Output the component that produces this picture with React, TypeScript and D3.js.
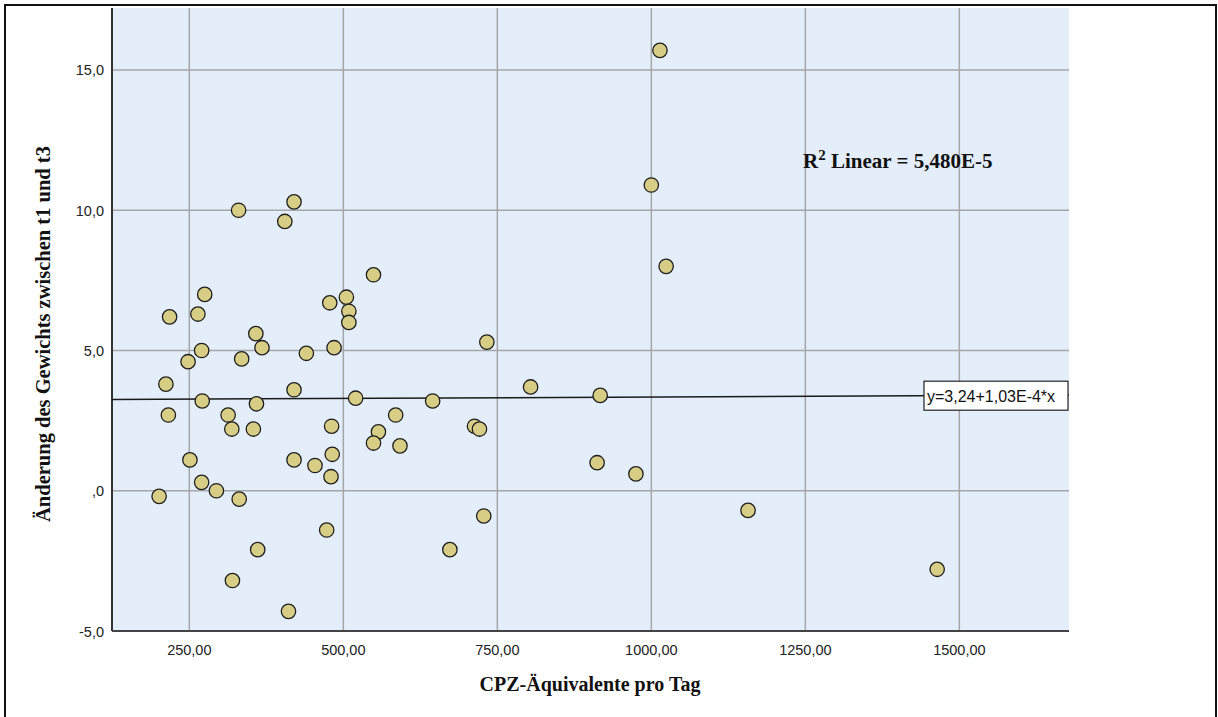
import React from "react";
import * as d3 from "d3";

// CPZ equivalents per day (x) and weight change between t1 and t3 (y)
const cpz = [
  330, 420, 405, 549, 275, 218, 264, 478, 505, 509, 509, 358, 270, 368, 248, 335, 440, 485,
  212, 420, 271, 359, 520, 216, 313, 319, 354, 481, 585, 557, 549, 592, 251, 420, 454, 482,
  480, 270, 294, 201, 331, 473, 361, 320, 411, 733, 804, 917, 645, 713, 721, 912, 975, 728,
  673, 1000, 1014, 1024, 1157, 1464,
];
const weightChange = [
  10.0, 10.3, 9.6, 7.7, 7.0, 6.2, 6.3, 6.7, 6.9, 6.4, 6.0, 5.6, 5.0, 5.1, 4.6, 4.7, 4.9, 5.1,
  3.8, 3.6, 3.2, 3.1, 3.3, 2.7, 2.7, 2.2, 2.2, 2.3, 2.7, 2.1, 1.7, 1.6, 1.1, 1.1, 0.9, 1.3,
  0.5, 0.3, 0.0, -0.2, -0.3, -1.4, -2.1, -3.2, -4.3, 5.3, 3.7, 3.4, 3.2, 2.3, 2.2, 1.0, 0.6, -0.9,
  -2.1, 10.9, 15.7, 8.0, -0.7, -2.8,
];

const xTicks = [250, 500, 750, 1000, 1250, 1500];
const yTicks = [-5, 0, 5, 10, 15];

// Fitted line y = a + b * x
const intercept = 3.24;
const slope = 1.03e-4;
const fitLabel = "y=3,24+1,03E-4*x";
const r2Text = "5,480E-5";

const xTitle = "CPZ-Äquivalente pro Tag";
const yTitle = "Änderung des Gewichts zwischen t1 und t3";

const W = 1218;
const H = 717;
const plot = { left: 112, right: 1069, top: 8, bottom: 631 };

const fmtX = (v: number) => v.toFixed(2).replace(".", ",");
const fmtY = (v: number) => (v === 0 ? ",0" : v.toFixed(1).replace(".", ","));

export default function App() {
  const x = d3.scaleLinear().domain([124.5, 1678]).range([plot.left, plot.right]);
  const y = d3.scaleLinear().domain([-5, 17.21]).range([plot.bottom, plot.top]);

  const [x0, x1] = x.domain();
  const fitLine = d3.line<number>()
    .x((d) => x(d))
    .y((d) => y(intercept + slope * d))([x0, x1]);

  const labelX = 924;
  const labelY = y(intercept + slope * x.invert(labelX));

  const sans = "'Liberation Sans', Arial, sans-serif";
  const serif = "'Liberation Serif', 'Times New Roman', serif";

  return (
    <svg
      width={W}
      height={H}
      style={{ position: "absolute", left: 0, top: 0, background: "#fff" }}
    >
      {/* outer frame */}
      <rect x={5} y={5} width={1211} height={730} fill="none" stroke="#111" strokeWidth={2} />

      {/* plot background */}
      <rect
        x={plot.left}
        y={plot.top}
        width={plot.right - plot.left}
        height={plot.bottom - plot.top}
        fill="#e4eefa"
      />

      {/* grid */}
      {xTicks.map((t) => (
        <line key={"gx" + t} x1={x(t)} x2={x(t)} y1={plot.top} y2={plot.bottom} stroke="#a4a6a8" strokeWidth={1.5} />
      ))}
      {yTicks.map((t) => (
        <line key={"gy" + t} x1={plot.left} x2={plot.right} y1={y(t)} y2={y(t)} stroke="#a4a6a8" strokeWidth={1.5} />
      ))}

      {/* axes */}
      <line x1={plot.left} x2={plot.left} y1={plot.top} y2={plot.bottom} stroke="#333" strokeWidth={2} />
      <line x1={plot.left} x2={plot.right} y1={plot.bottom} y2={plot.bottom} stroke="#444" strokeWidth={2} />

      {/* tick labels */}
      {xTicks.map((t) => (
        <text key={"tx" + t} x={x(t)} y={655} textAnchor="middle" fontFamily={sans} fontSize={14.5} fill="#222">
          {fmtX(t)}
        </text>
      ))}
      {yTicks.map((t) => (
        <text key={"ty" + t} x={104} y={y(t) + 5.5} textAnchor="end" fontFamily={sans} fontSize={14.5} fill="#222">
          {fmtY(t)}
        </text>
      ))}

      {/* regression line */}
      <path d={fitLine ?? ""} fill="none" stroke="#1a1a1a" strokeWidth={1.5} />

      {/* points */}
      {cpz.map((v, i) => (
        <circle
          key={i}
          cx={x(v)}
          cy={y(weightChange[i])}
          r={7.2}
          fill="#d8cd85"
          stroke="#1e1e1e"
          strokeWidth={1.3}
        />
      ))}

      {/* fit equation label */}
      <rect x={labelX} y={labelY - 14.5} width={144} height={29} fill="#fff" stroke="#222" strokeWidth={1.2} />
      <text x={labelX + 3} y={labelY + 6} fontFamily={sans} fontSize={16} fill="#111">
        {fitLabel}
      </text>

      {/* R² annotation */}
      <text x={803} y={168} fontFamily={serif} fontSize={21} fontWeight="bold" fill="#111">
        R<tspan dy={-8} fontSize={15}>2</tspan>
        <tspan dy={8}> Linear = {r2Text}</tspan>
      </text>

      {/* axis titles */}
      <text x={590} y={691} textAnchor="middle" fontFamily={serif} fontSize={20} fontWeight="bold" fill="#111">
        {xTitle}
      </text>
      <text
        transform={`translate(50, 334) rotate(-90)`}
        textAnchor="middle"
        fontFamily={serif}
        fontSize={20.5}
        fontWeight="bold"
        fill="#111"
      >
        {yTitle}
      </text>
    </svg>
  );
}
